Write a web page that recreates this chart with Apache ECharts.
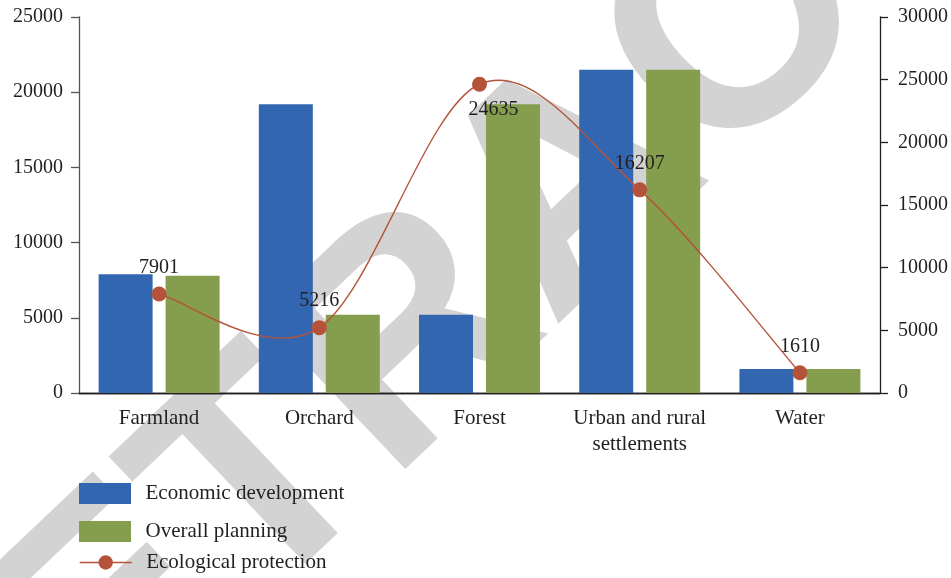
<!DOCTYPE html>
<html>
<head>
<meta charset="utf-8">
<script src="https://cdn.jsdelivr.net/npm/echarts@6/dist/echarts.min.js"></script>
<style>
  html, body { margin: 0; padding: 0; background: #fff; }
  #chart { width: 951px; height: 578px; }
</style>
</head>
<body>
<div id="chart"></div>
<script>
// Land-use categories and the three scenarios compared on them
const categories = ['Farmland', 'Orchard', 'Forest', 'Urban and rural\nsettlements', 'Water'];
const economicDevelopment = [7900, 19200, 5200, 21500, 1600];
const overallPlanning = [7800, 5200, 19200, 21500, 1600];
const ecologicalProtection = [7901, 5216, 24635, 16207, 1610];

// Axis ranges
const leftTicks = { min: 0, max: 25000, interval: 5000 };
const rightTicks = { min: 0, max: 30000, interval: 5000 };

const serif = '"Liberation Serif", "DejaVu Serif", serif';
const textColor = '#231f20';
const blue = '#3266b0';
const green = '#849e4e';
const rust = '#b4533a';

const numberLabel = v => String(v);

// Catmull-Rom style smoothed segment between point i and i+1,
// with all positions taken from the chart's own coordinate system.
function renderSmoothSegment(params, api) {
  const i = params.dataIndex;
  const n = ecologicalProtection.length;
  if (i >= n - 1) return null;
  const pt = k => {
    const kk = Math.max(0, Math.min(n - 1, k));
    return api.coord([kk, ecologicalProtection[kk]]);
  };
  const p0 = pt(i - 1), p1 = pt(i), p2 = pt(i + 1), p3 = pt(i + 2);
  return {
    type: 'bezierCurve',
    silent: true,
    shape: {
      x1: p1[0], y1: p1[1],
      x2: p2[0], y2: p2[1],
      cpx1: p1[0] + (p2[0] - p0[0]) / 6,
      cpy1: p1[1] + (p2[1] - p0[1]) / 6,
      cpx2: p2[0] - (p3[0] - p1[0]) / 6,
      cpy2: p2[1] - (p3[1] - p1[1]) / 6
    },
    style: { stroke: rust, lineWidth: 1.4, fill: null }
  };
}

const chart = echarts.init(document.getElementById('chart'), null, { renderer: 'canvas' });

const legendText = { fontFamily: serif, fontSize: 21, color: textColor, padding: [0, 0, 0, 9.5] };

chart.setOption({
  animation: false,
  backgroundColor: '#ffffff',
  textStyle: { fontFamily: serif },
  graphic: {
    elements: [{
      type: 'text',
      z: -100,
      silent: true,
      x: 575,
      y: 190,
      rotation: 43.5 * Math.PI / 180,
      style: {
        text: 'RETRACTED',
        font: 'bold 310px "Liberation Sans", Arial, sans-serif',
        fill: '#d3d3d3',
        align: 'center',
        verticalAlign: 'middle'
      }
    }]
  },
  grid: { left: 79, right: 71, top: 17, bottom: 185, containLabel: false },
  legend: [
    {
      data: [{ name: 'Economic development', icon: 'rect' }],
      left: 79, top: 483, padding: 0,
      itemWidth: 52, itemHeight: 21,
      textStyle: legendText
    },
    {
      data: [{ name: 'Overall planning', icon: 'rect' }],
      left: 79, top: 521, padding: 0,
      itemWidth: 52, itemHeight: 21,
      textStyle: legendText
    },
    {
      data: ['Ecological protection'],
      left: 79, top: 552, padding: 0,
      itemWidth: 52, itemHeight: 18,
      lineStyle: { color: rust, width: 1.4, opacity: 1 },
      textStyle: legendText
    }
  ],
  xAxis: [
    {
      type: 'category',
      data: categories,
      position: 'bottom',
      axisLine: { lineStyle: { color: '#231f20', width: 1.3 } },
      axisTick: { alignWithLabel: true, length: 7, lineStyle: { color: '#231f20', width: 1.3 } },
      axisLabel: { interval: 0, fontFamily: serif, fontSize: 21, color: textColor, margin: 12, lineHeight: 26 },
      splitLine: { show: false }
    },
    {
      type: 'category',
      data: categories,
      position: 'top',
      axisLine: { lineStyle: { color: '#231f20', width: 1.3 } },
      axisTick: { show: false },
      axisLabel: { show: false },
      splitLine: { show: false }
    }
  ],
  yAxis: [
    {
      type: 'value',
      position: 'left',
      min: leftTicks.min, max: leftTicks.max, interval: leftTicks.interval,
      axisLine: { show: true, lineStyle: { color: '#555555', width: 1.3 } },
      axisTick: { show: true, length: 8, lineStyle: { color: '#555555', width: 1.3 } },
      axisLabel: { fontFamily: serif, fontSize: 20, color: textColor, margin: 16, formatter: numberLabel },
      splitLine: { show: false }
    },
    {
      type: 'value',
      position: 'right',
      min: rightTicks.min, max: rightTicks.max, interval: rightTicks.interval,
      axisLine: { show: true, lineStyle: { color: '#231f20', width: 1.3 } },
      axisTick: { show: true, length: 8, lineStyle: { color: '#231f20', width: 1.3 } },
      axisLabel: { fontFamily: serif, fontSize: 20, color: textColor, margin: 18, formatter: numberLabel },
      splitLine: { show: false }
    }
  ],
  series: [
    {
      name: 'Economic development',
      type: 'bar',
      data: economicDevelopment,
      barWidth: 54,
      barGap: '24%',
      itemStyle: { color: blue }
    },
    {
      name: 'Overall planning',
      type: 'bar',
      data: overallPlanning,
      barWidth: 54,
      barGap: '24%',
      itemStyle: { color: green }
    },
    {
      name: 'Ecological protection curve',
      type: 'custom',
      coordinateSystem: 'cartesian2d',
      xAxisIndex: 0,
      yAxisIndex: 1,
      z: 4,
      silent: true,
      renderItem: renderSmoothSegment,
      data: ecologicalProtection.map((v, i) => [i, v])
    },
    {
      name: 'Ecological protection',
      type: 'line',
      yAxisIndex: 1,
      symbol: 'circle',
      symbolSize: 15,
      z: 5,
      lineStyle: { color: rust, width: 1.4, opacity: 0 },
      itemStyle: { color: rust },
      label: {
        show: true,
        position: 'top',
        distance: 9,
        fontFamily: serif,
        fontSize: 20,
        color: textColor
      },
      data: ecologicalProtection.map((v, i) => i === 2
        ? { value: v, label: { position: 'bottom', distance: 8, offset: [14, 0] } }
        : v)
    }
  ]
});
</script>
</body>
</html>
